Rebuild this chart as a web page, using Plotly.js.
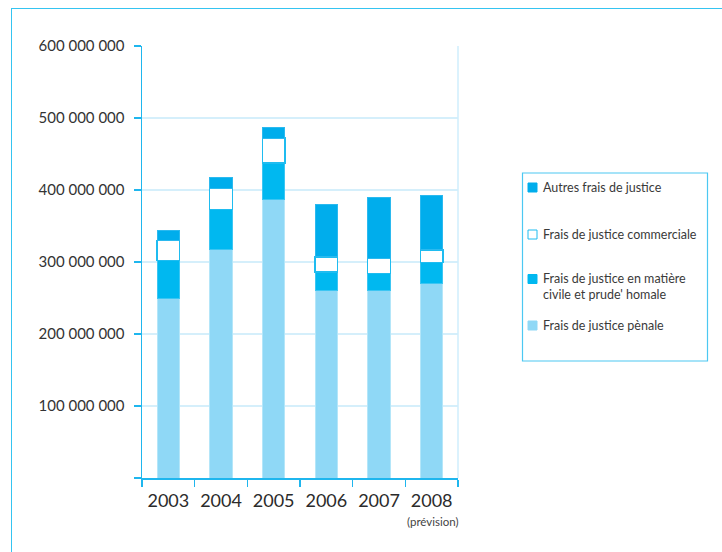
<!DOCTYPE html>
<html>
<head>
<meta charset="utf-8">
<script src="https://cdn.plot.ly/plotly-3.0.1.min.js"></script>
<style>
  html, body { margin: 0; padding: 0; background: #fff; }
  #wrap { position: relative; width: 722px; height: 552px; }
  #chart { position: absolute; left: 0; top: 0; width: 722px; height: 552px; }
  #frame { position: absolute; left: 11px; top: 8px; width: 711px; height: 544px;
           border-left: 1.5px solid #35c4f1; border-top: 1.5px solid #35c4f1;
           box-sizing: border-box; pointer-events: none; }
</style>
</head>
<body>
<div id="wrap">
  <div id="chart"></div>
  <div id="frame"></div>
</div>
<script>
// ---- Data ----
const years = ["2003", "2004", "2005", "2006", "2007", "2008"];
const seriesNames = [
  "Frais de justice pènale",
  "Frais de justice en matière<br>civile et prude' homale",
  "Frais de justice commerciale",
  "Autres frais de justice"
];
const penale      = [249e6, 318e6, 387e6, 261e6, 260e6, 270e6];
const civile      = [53e6,  55e6,  50.5e6, 25e6, 24e6, 29e6];
const commerciale = [28e6,  29e6,  34.5e6, 21e6, 21.5e6, 18e6];
const autres      = [14e6,  15e6,  15.5e6, 73e6, 83.5e6, 75e6];
const yTickVals = [0, 100e6, 200e6, 300e6, 400e6, 500e6, 600e6];
const yTickText = ["", "100 000 000", "200 000 000", "300 000 000", "400 000 000", "500 000 000", "600 000 000"];
const footnote = "(prévision)";

// ---- Styles ----
const fills   = ["#8fd8f6", "#00b8f0", "#ffffff", "#00adec"];
const borders = ["#b4e6f9", "#3cc6f3", "#1fbcf0", "#2bb9ef"];
const values  = [penale, civile, commerciale, autres];

const traces = values.map((v, i) => ({
  type: "bar",
  name: seriesNames[i],
  x: years,
  y: v,
  width: 0.43,
  marker: { color: fills[i], line: { color: borders[i], width: i === 2 ? 1.5 : 1 } },
  showlegend: false,
  hoverinfo: "skip"
}));

// layout geometry (pixels -> paper)
const L = 142, R = 458, T = 46, B = 478;
const px = x => (x - L) / (R - L);
const py = y => (B - y) / (B - T);

const shapes = [
  // right light border of plot area
  { type: "line", xref: "paper", yref: "paper", x0: 1, x1: 1, y0: 0, y1: 1,
    line: { color: "#cfeefc", width: 1.5 } },
  // legend box
  { type: "rect", xref: "paper", yref: "paper", x0: px(522.5), x1: px(707.5), y0: py(361), y1: py(173),
    line: { color: "#4cc8f2", width: 1.2 }, fillcolor: "rgba(0,0,0,0)" }
];
const annotations = [
  { text: footnote, xref: "paper", yref: "paper", x: px(433), y: py(521), xanchor: "center", yanchor: "middle",
    showarrow: false, font: { family: "Lato, sans-serif", size: 11.5, color: "#444" } }
];

// legend entries (top to bottom: reversed stacking order)
const legendY = [325.5, 279, 234.5, 187.5];
const legendTextY = [325.5, 286.5, 234.5, 187.5];
for (let i = 0; i < 4; i++) {
  shapes.push({ type: "rect", xref: "paper", yref: "paper",
    x0: px(528), x1: px(537), y0: py(legendY[i] + 4.5), y1: py(legendY[i] - 4.5),
    fillcolor: fills[i], line: { color: i === 2 ? "#1fbcf0" : fills[i], width: 1 } });
  annotations.push({ text: seriesNames[i], xref: "paper", yref: "paper",
    x: px(541), y: py(legendTextY[i]), xanchor: "left", yanchor: "middle", align: "left",
    showarrow: false, font: { family: "Lato, sans-serif", size: 12.5, color: "#3a3a3a" } });
}

const layout = {
  width: 722, height: 552,
  margin: { l: L, r: 722 - R, t: T, b: 552 - B, pad: 0 },
  paper_bgcolor: "#ffffff", plot_bgcolor: "#ffffff",
  barmode: "stack",
  showlegend: false,
  font: { family: "Lato, sans-serif", color: "#333" },
  xaxis: {
    type: "category", range: [-0.5, 5.5],
    showgrid: false, showline: true, linecolor: "#1fb6ee", linewidth: 1.5,
    ticks: "outside", tickson: "boundaries", ticklen: 7, tickcolor: "#1fb6ee", tickwidth: 1.5,
    ticklabelstandoff: 6,
    tickfont: { family: "Lato, sans-serif", size: 18, color: "#2b2b2b" },
    zeroline: false, fixedrange: true
  },
  yaxis: {
    range: [0, 600e6], tickvals: yTickVals, ticktext: yTickText,
    showgrid: true, gridcolor: "#d5effb", gridwidth: 1.5,
    showline: true, linecolor: "#1fb6ee", linewidth: 1.5,
    ticks: "outside", ticklen: 7, tickcolor: "#1fb6ee", tickwidth: 1.5,
    ticklabelstandoff: 6,
    tickfont: { family: "Lato, sans-serif", size: 15, color: "#333" },
    zeroline: false, fixedrange: true
  },
  shapes: shapes,
  annotations: annotations
};

Plotly.newPlot("chart", traces, layout, { displayModeBar: false, staticPlot: true });
</script>
</body>
</html>
